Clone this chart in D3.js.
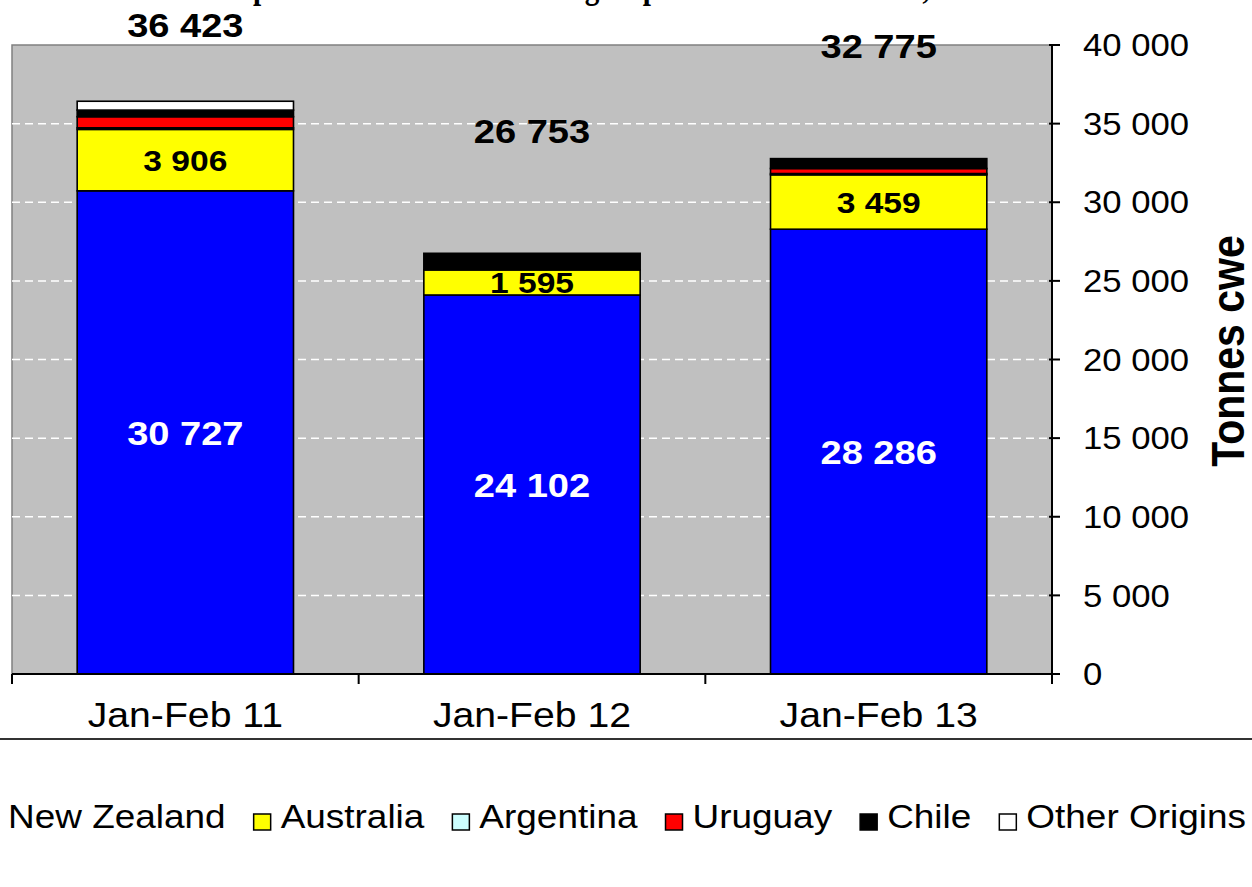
<!DOCTYPE html>
<html>
<head>
<meta charset="utf-8">
<script src="https://cdn.jsdelivr.net/npm/d3@7"></script>
<style>
  html, body { margin: 0; padding: 0; background: #fff; }
  svg { display: block; font-family: "Liberation Sans", Arial, sans-serif; }
</style>
</head>
<body>
<svg id="chart" width="1252" height="887"></svg>
<script>
// data (tonnes cwe)
const categories = ["Jan-Feb 11", "Jan-Feb 12", "Jan-Feb 13"];
const origins = ["New Zealand", "Australia", "Argentina", "Uruguay", "Chile", "Other Origins"];
const newZealand = [30727, 24102, 28286];
const australia = [3906, 1595, 3459];
const argentina = [100, 0, 80];
const uruguay = [707, 0, 320];
const chile = [420, 1056, 630];
const otherOrigins = [563, 0, 0];
const totals = [36423, 26753, 32775];
const yTicks = [0, 5000, 10000, 15000, 20000, 25000, 30000, 35000, 40000];
const titleText = "Total imports from the main trade group to the EU-27 market, Jan-Feb 2011-2013";

const colors = ["#0000ff", "#ffff00", "#ccffff", "#ff0000", "#000000", "#ffffff"];
const seriesValues = [newZealand, australia, argentina, uruguay, chile, otherOrigins];

// the original picture is a bit wider than tall, so text is stretched sideways
const SX = 1.12;
const fmt = v => d3.format(",")(v).replace(/,/g, " ");

const svg = d3.select("#chart");
const plot = { left: 12, right: 1052, top: 45, bottom: 674 };

const x = d3.scaleBand().domain(categories).range([plot.left, plot.right]).paddingInner(0.376).paddingOuter(0.188);
const y = d3.scaleLinear().domain([0, 40000]).range([plot.bottom, plot.top]);

function place(sel, px, py, extra) {
  return sel.attr("transform", `translate(${px},${py}) scale(${SX},1)${extra || ""}`);
}

// plot background
svg.append("rect")
  .attr("x", plot.left).attr("y", plot.top)
  .attr("width", plot.right - plot.left).attr("height", plot.bottom - plot.top)
  .attr("fill", "#c0c0c0");
svg.append("path")
  .attr("d", `M${plot.left},${plot.bottom}V${plot.top}H${plot.right}`)
  .attr("fill", "none").attr("stroke", "#808080").attr("stroke-width", 1.5);

// gridlines
svg.append("g").selectAll("line")
  .data(yTicks.filter(t => t > 0 && t < 40000)).enter().append("line")
  .attr("x1", plot.left).attr("x2", plot.right)
  .attr("y1", d => y(d)).attr("y2", d => y(d))
  .attr("stroke", "#ffffff").attr("stroke-width", 1.5).attr("stroke-dasharray", "8,5");

// stacked bars
const rows = categories.map((c, i) => {
  const r = { cat: c };
  origins.forEach((o, k) => { r[o] = seriesValues[k][i]; });
  return r;
});
const stack = d3.stack().keys(origins)(rows);

svg.append("g").selectAll("g")
  .data(stack).enter().append("g")
  .attr("fill", (d, k) => colors[k])
  .selectAll("rect").data(d => d).enter().append("rect")
  .attr("x", d => x(d.data.cat))
  .attr("width", x.bandwidth())
  .attr("y", d => y(d[1]))
  .attr("height", d => y(d[0]) - y(d[1]))
  .attr("stroke", "#000").attr("stroke-width", 1.6);

// value labels
const labels = svg.append("g").attr("font-weight", "bold").attr("text-anchor", "middle");
stack[0].forEach(d => {
  place(labels.append("text"), x(d.data.cat) + x.bandwidth() / 2, (y(d[0]) + y(d[1])) / 2, "")
    .attr("dy", "0.36em").attr("font-size", 34).attr("fill", "#fff").text(fmt(d[1] - d[0]));
});
stack[1].forEach(d => {
  place(labels.append("text"), x(d.data.cat) + x.bandwidth() / 2, (y(d[0]) + y(d[1])) / 2, "")
    .attr("dy", "0.36em").attr("font-size", 30).attr("fill", "#000").text(fmt(d[1] - d[0]));
});
const totalLabelLift = [76, 123, 113];
totals.forEach((t, i) => {
  place(labels.append("text"), x(categories[i]) + x.bandwidth() / 2, y(t) - totalLabelLift[i], "")
    .attr("dy", "0.36em").attr("font-size", 34).attr("fill", "#000").text(fmt(t));
});

// right value axis
const yAxis = svg.append("g").attr("transform", `translate(${plot.right},0)`);
yAxis.append("line").attr("y1", plot.top).attr("y2", plot.bottom).attr("stroke", "#000").attr("stroke-width", 2);
yAxis.selectAll(".tk").data(yTicks).enter().append("line")
  .attr("x1", -3).attr("x2", 8).attr("y1", d => y(d)).attr("y2", d => y(d))
  .attr("stroke", "#000").attr("stroke-width", 2);
yAxis.selectAll(".lb").data(yTicks).enter().append("text")
  .each(function (d) { place(d3.select(this), 31, y(d), ""); })
  .attr("dy", "0.36em").attr("font-size", 31).attr("fill", "#000").text(fmt);

place(svg.append("text"), 1244, 351, " rotate(-90)")
  .attr("text-anchor", "middle").attr("font-weight", "bold").attr("font-size", 41)
  .attr("fill", "#000").text("Tonnes cwe");

// category axis
const xAxis = svg.append("g");
xAxis.append("line").attr("x1", plot.left).attr("x2", plot.right)
  .attr("y1", plot.bottom).attr("y2", plot.bottom).attr("stroke", "#000").attr("stroke-width", 2);
const step = x.step();
xAxis.selectAll(".tk").data(d3.range(categories.length + 1)).enter().append("line")
  .attr("x1", i => plot.left + i * step).attr("x2", i => plot.left + i * step)
  .attr("y1", plot.bottom).attr("y2", plot.bottom + 10)
  .attr("stroke", "#000").attr("stroke-width", 2);
xAxis.selectAll(".lb").data(categories).enter().append("text")
  .each(function (d) { place(d3.select(this), x(d) + x.bandwidth() / 2, 727, ""); })
  .attr("text-anchor", "middle").attr("font-size", 35).attr("fill", "#000").text(d => d);

// chart area separator
svg.append("line").attr("x1", 0).attr("x2", 1252).attr("y1", 739).attr("y2", 739)
  .attr("stroke", "#333").attr("stroke-width", 2);

// legend (starts off the left edge, as in the picture)
const legend = svg.append("g");
let cx = 8 - 10 - 17;
origins.forEach((o, k) => {
  legend.append("rect").attr("x", cx).attr("y", 814).attr("width", 17).attr("height", 16)
    .attr("fill", colors[k]).attr("stroke", "#000").attr("stroke-width", 1.5);
  const t = place(legend.append("text"), cx + 27, 828, "").attr("font-size", 33).attr("fill", "#000").text(o);
  cx += 27 + t.node().getComputedTextLength() * SX + 28;
});

// title, mostly cut off above the picture
const title = svg.append("text").attr("font-family", "'Liberation Serif', 'Times New Roman', serif")
  .attr("font-weight", "bold").attr("font-size", 36).attr("fill", "#000").text(titleText);
const i1 = titleText.indexOf("p");
const i2 = titleText.indexOf("group") + 4;
const a = title.node().getStartPositionOfChar(i1).x;
const b = title.node().getStartPositionOfChar(i2).x;
const s = (643 - 253) / (b - a);
title.attr("transform", `translate(${253 - a * s},-2) scale(${s},1)`);
</script>
</body>
</html>
